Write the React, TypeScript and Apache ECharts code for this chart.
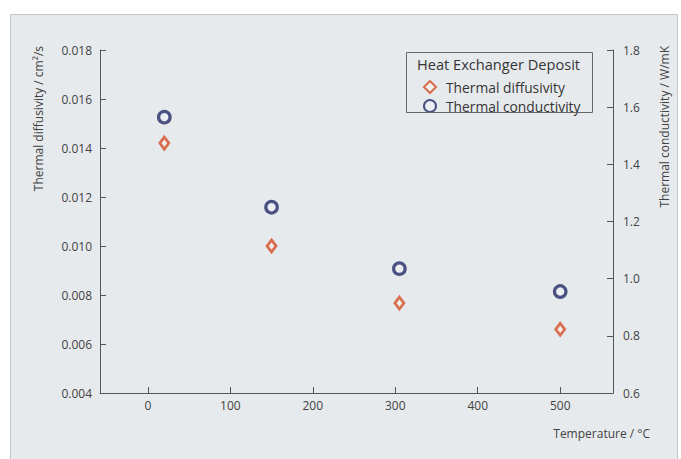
import React, { useEffect, useRef } from "react";
import * as echarts from "echarts";

const temperatures = [20, 150, 305, 500];
const diffusivity = [0.0142, 0.01, 0.00767, 0.0066];
const conductivity = [1.565, 1.25, 1.035, 0.955];

const leftTicks = { min: 0.004, max: 0.018, interval: 0.002 };
const rightTicks = { min: 0.6, max: 1.8, interval: 0.2 };
const xRange = { min: -58, max: 564 };

const FONT = "'Open Sans', 'Noto Sans', sans-serif";
const AXIS_COLOR = "#555555";
const TEXT_COLOR = "#424242";
const ORANGE = "#d24f27";
const NAVY = "#222a66";

export default function App() {
  const ref = useRef<HTMLDivElement>(null);

  useEffect(() => {
    document.body.style.margin = "0";
    const chart = echarts.init(ref.current!, null, { renderer: "svg" });
    const axisCommon = {
      axisLine: { show: true, onZero: false, lineStyle: { color: AXIS_COLOR, width: 1 } },
      axisTick: { show: true, inside: true, length: 6, lineStyle: { color: AXIS_COLOR } },
      splitLine: { show: false },
      axisLabel: { color: TEXT_COLOR, fontFamily: FONT, fontSize: 12 },
    };
    chart.setOption({
      animation: false,
      backgroundColor: "#ffffff",
      grid: { left: 100, top: 50, right: 68, bottom: 66, containLabel: false },
      graphic: [
        {
          type: "rect",
          z: -10,
          silent: true,
          shape: { x: 10.5, y: 14.5, width: 667, height: 460 },
          style: { fill: "#e7eaed", stroke: "#c4c7ca", lineWidth: 1 },
        },
        {
          type: "rect",
          z: 5,
          shape: { x: 406.5, y: 52.5, width: 186, height: 60 },
          style: { fill: "none", stroke: "#666666", lineWidth: 1 },
        },
        {
          type: "text",
          z: 6,
          x: 417,
          y: 64,
          style: {
            text: "Heat Exchanger Deposit",
            fontFamily: FONT,
            fontSize: 14.6,
            fill: "#353535",
            verticalAlign: "middle",
            align: "left",
          },
        },
        {
          type: "text",
          x: 38,
          y: 46,
          rotation: Math.PI / 2,
          style: {
            text: "Thermal diffusivity / cm²/s",
            fontFamily: FONT,
            fontSize: 12,
            fill: TEXT_COLOR,
            align: "right",
            verticalAlign: "middle",
          },
        },
        {
          type: "text",
          x: 664,
          y: 46,
          rotation: Math.PI / 2,
          style: {
            text: "Thermal conductivity / W/mK",
            fontFamily: FONT,
            fontSize: 12,
            fill: TEXT_COLOR,
            align: "right",
            verticalAlign: "middle",
          },
        },
        {
          type: "text",
          x: 650,
          y: 433,
          style: {
            text: "Temperature / °C",
            fontFamily: FONT,
            fontSize: 12,
            fill: TEXT_COLOR,
            align: "right",
            verticalAlign: "middle",
          },
        },
      ],
      legend: {
        orient: "vertical",
        left: 418,
        top: 75,
        itemWidth: 12,
        itemHeight: 12,
        itemGap: 5,
        data: ["Thermal diffusivity", "Thermal conductivity"],
        textStyle: {
          fontFamily: FONT,
          fontSize: 13.8,
          color: "#353535",
          lineHeight: 14,
          padding: [0, 0, 0, 5],
        },
      },
      xAxis: {
        type: "value",
        min: xRange.min,
        max: xRange.max,
        ...axisCommon,
        axisLabel: {
          ...axisCommon.axisLabel,
          margin: 6,
          formatter: (v: number) => (v % 100 === 0 ? String(v) : ""),
        },
      },
      yAxis: [
        {
          type: "value",
          position: "left",
          min: leftTicks.min,
          max: leftTicks.max,
          interval: leftTicks.interval,
          ...axisCommon,
          axisLabel: {
            ...axisCommon.axisLabel,
            margin: 8,
            formatter: (v: number) => v.toFixed(3),
          },
        },
        {
          type: "value",
          position: "right",
          min: rightTicks.min,
          max: rightTicks.max,
          interval: rightTicks.interval,
          ...axisCommon,
          axisLabel: {
            ...axisCommon.axisLabel,
            margin: 10,
            formatter: (v: number) => v.toFixed(1),
          },
        },
      ],
      series: [
        {
          name: "Thermal diffusivity",
          type: "scatter",
          yAxisIndex: 0,
          symbol: "diamond",
          symbolSize: [9, 12],
          data: temperatures.map((t, i) => [t, diffusivity[i]]),
          itemStyle: {
            color: "#f3f1ee",
            borderColor: ORANGE,
            borderWidth: 2.8,
          },
        },
        {
          name: "Thermal conductivity",
          type: "scatter",
          yAxisIndex: 1,
          symbol: "circle",
          symbolSize: 11.5,
          data: temperatures.map((t, i) => [t, conductivity[i]]),
          itemStyle: {
            color: "#eef0f3",
            borderColor: NAVY,
            borderWidth: 3.2,
          },
        },
      ],
    });
    return () => chart.dispose();
  }, []);

  return <div ref={ref} style={{ width: 681, height: 459 }} />;
}
